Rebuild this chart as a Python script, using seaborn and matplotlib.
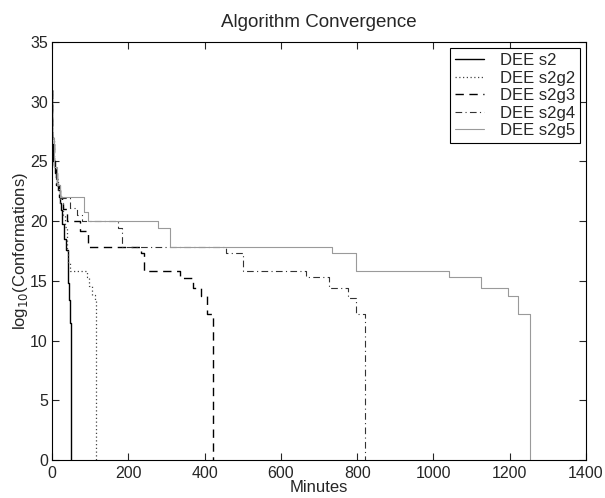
import matplotlib
matplotlib.use("Agg")
import matplotlib.pyplot as plt
import seaborn as sns
import pandas as pd

# ---- data (step corners; value holds from time onward) ----
s2_t = [0, 1, 3, 8, 12, 15, 20, 24, 27, 32, 37, 41, 43, 45.5, 47, 49.5]
s2_v = [31, 26.5, 25, 24, 23, 22.6, 21.5, 20.9, 19.8, 18.5, 17.6, 16.2, 14.8, 13.4, 11.5, 0]

s2g2_t = [0, 1, 5, 10, 15, 20, 28, 34, 38, 42, 48, 91, 97, 105, 112, 115]
s2g2_v = [31, 27, 24.5, 23.5, 22.5, 21.5, 20.5, 19.5, 17.5, 16.5, 15.8, 15.3, 14.6, 13.8, 13.4, 0]

s2g3_t = [0, 1, 5, 10, 18, 25, 30, 38, 73, 95, 232, 240, 335, 370, 390, 405, 421]
s2g3_v = [31, 27, 24.5, 23, 22, 21.5, 21, 20, 19.2, 17.8, 17.3, 15.8, 15.2, 14.4, 13.7, 12.2, 0]

s2g4_t = [0, 1, 5, 10, 20, 47, 65, 78, 173, 183, 455, 500, 665, 725, 777, 797, 821]
s2g4_v = [31, 27, 24.5, 23, 21.9, 21.1, 20.5, 20, 19.4, 17.8, 17.3, 15.8, 15.3, 14.4, 13.6, 12.2, 0]

s2g5_t = [0, 1, 5, 12, 20, 85, 95, 278, 309, 735, 797, 1040, 1124, 1196, 1222, 1252]
s2g5_v = [31, 27, 24.5, 23, 22, 20.8, 20, 19.4, 17.8, 17.3, 15.8, 15.3, 14.4, 13.7, 12.2, 0]

labels = ["DEE s2", "DEE s2g2", "DEE s2g3", "DEE s2g4", "DEE s2g5"]
x_ticks = [0, 200, 400, 600, 800, 1000, 1200, 1400]
y_ticks = [0, 5, 10, 15, 20, 25, 30, 35]

series = [(s2_t, s2_v), (s2g2_t, s2g2_v), (s2g3_t, s2g3_v), (s2g4_t, s2g4_v), (s2g5_t, s2g5_v)]
styles = [
    dict(color="black", linestyle="-", linewidth=1.0),
    dict(color="#444444", linestyle=(0, (1, 2)), linewidth=0.9),
    dict(color="black", linestyle=(0, (6, 4)), linewidth=1.0),
    dict(color="#333333", linestyle=(0, (6, 3, 1, 3)), linewidth=0.8),
    dict(color="#9a9a9a", linestyle="-", linewidth=0.8),
]

sns.set_style("ticks")
plt.rcParams["font.family"] = ["Liberation Sans", "DejaVu Sans"]
plt.rcParams["xtick.direction"] = "in"
plt.rcParams["ytick.direction"] = "in"
plt.rcParams["xtick.top"] = True
plt.rcParams["ytick.right"] = True

fig = plt.figure(figsize=(6.05, 4.98), dpi=100)
ax = fig.add_axes([0.086, 0.0763, 0.8826, 0.8394])

for (t, v), lab, st in zip(series, labels, styles):
    df = pd.DataFrame({"Minutes": t, "val": v})
    sns.lineplot(data=df, x="Minutes", y="val", ax=ax, label=lab, estimator=None,
                 sort=False, drawstyle="steps-post", **st)

ax.set_xlim(0, 1400)
ax.set_ylim(0, 35)
ax.set_xticks(x_ticks)
ax.set_yticks(y_ticks)
ax.tick_params(axis="both", which="both", direction="in", length=5, width=0.8,
               labelsize=11.5, top=True, right=True)
ax.tick_params(axis="x", pad=4.5)
ax.tick_params(axis="y", pad=3)
for sp in ax.spines.values():
    sp.set_visible(True)
    sp.set_linewidth(0.8)
    sp.set_color("black")

ax.set_title("Algorithm Convergence", fontsize=13.5, pad=11)
ax.set_xlabel("Minutes", fontsize=12, labelpad=-1)
ax.set_ylabel("log$_{10}$(Conformations)", fontsize=12, labelpad=0)

leg = ax.legend(loc="upper right", fontsize=12, frameon=True, fancybox=False,
                framealpha=1, edgecolor="black", handlelength=1.7, handletextpad=0.95,
                labelspacing=0.15, borderpad=0.32, borderaxespad=0.35)
leg.get_frame().set_linewidth(0.8)

fig.savefig("out.png", dpi=100)
